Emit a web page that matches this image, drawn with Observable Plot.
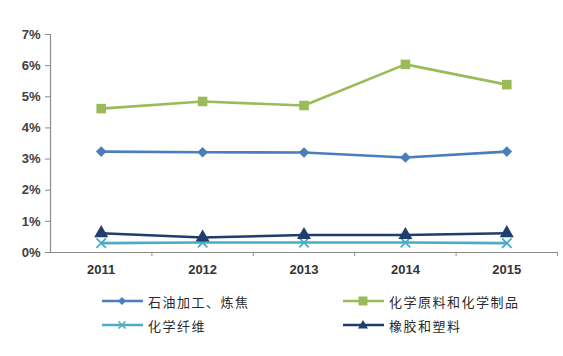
<!DOCTYPE html>
<html><head><meta charset="utf-8">
<script src="https://cdn.jsdelivr.net/npm/d3@7"></script>
<script src="https://cdn.jsdelivr.net/npm/@observablehq/plot@0.6"></script>
<style>
body{margin:0;background:#fff;font-family:"Noto Sans CJK SC","Noto Sans",sans-serif;}
#wrap{position:relative;width:563px;height:356px;}
.leg{position:absolute;display:flex;align-items:center;font-size:13px;letter-spacing:1.5px;color:#2a2a2a;}
.leg svg{margin-right:5px;}
</style></head><body>
<div id="wrap"></div>
<script>
const years = [2011, 2012, 2013, 2014, 2015];
const petroleum = [0.0324, 0.0322, 0.0321, 0.0305, 0.0324];
const chemicals = [0.0462, 0.0485, 0.0472, 0.0604, 0.0539];
const fibers = [0.0030, 0.0032, 0.0032, 0.0032, 0.0030];
const rubber = [0.0062, 0.0048, 0.0056, 0.0056, 0.0062];
const names = ["石油加工、炼焦", "化学原料和化学制品", "化学纤维", "橡胶和塑料"];
const yTicks = [0, 0.01, 0.02, 0.03, 0.04, 0.05, 0.06, 0.07];

const series = [
  {name: names[0], values: petroleum, color: "#4a7ebb", symbol: "diamond2", r: 4.8, fill: true},
  {name: names[1], values: chemicals, color: "#9bbb59", symbol: "square", r: 5.4, fill: true},
  {name: names[2], values: fibers, color: "#4bacc6", symbol: "times", r: 4.4, fill: false},
  {name: names[3], values: rubber, color: "#1f3d6d", symbol: "triangle", r: 5.2, fill: true}
];
const drawOrder = [2, 3, 0, 1];

const marks = [
  Plot.ruleY([0], {stroke: "#8c8c8c", strokeWidth: 1.2}),
  Plot.ruleX([2010.5], {y1: 0, y2: 0.07, stroke: "#8c8c8c", strokeWidth: 1.2}),
  Plot.axisY({ticks: yTicks, tickFormat: d => Math.round(d * 100) + "%", tickSize: 5, tickPadding: 5, label: null, fontSize: 13, fontWeight: "bold", color: "#404040", stroke: "#8c8c8c"}),
  Plot.axisX({ticks: years, tickSize: 0, tickPadding: 12, tickFormat: d => String(d), label: null, fontSize: 13, fontWeight: "bold", color: "#333"}),
  Plot.axisX({ticks: [2011.5, 2012.5, 2013.5, 2014.5, 2015.5], tickSize: 4, tickFormat: () => "", label: null, stroke: "#8c8c8c"})
];
for (const k of drawOrder) {
  const s = series[k];
  marks.push(Plot.line(years, {x: d => d, y: (d, i) => s.values[i], stroke: s.color, strokeWidth: 2.6}));
  marks.push(Plot.dot(years, {x: d => d, y: (d, i) => s.values[i], symbol: s.symbol, r: s.r,
    fill: s.fill ? s.color : "none", stroke: s.color, strokeWidth: s.fill ? 0 : 1.8}));
}

const chart = Plot.plot({
  width: 563, height: 282,
  marginTop: 34, marginBottom: 30, marginLeft: 50, marginRight: 6,
  x: {domain: [2010.5, 2015.5]},
  y: {domain: [0, 0.07]},
  style: {fontFamily: "'Liberation Sans', Arial, sans-serif", fontSize: "13px", fontWeight: "bold"},
  marks
});
const wrap = document.getElementById("wrap");
wrap.appendChild(chart);

const legPos = [[102, 301], [343, 301], [102, 325], [343, 325]];
series.forEach((s, i) => {
  const div = document.createElement("div");
  div.className = "leg";
  div.style.left = legPos[i][0] + "px";
  div.style.top = (legPos[i][1] - 10) + "px";
  div.style.height = "20px";
  let marker = "";
  const cx = 20, cy = 10;
  if (s.symbol === "diamond2") marker = `<path d="M${cx},${cy-4} L${cx+4},${cy} L${cx},${cy+4} L${cx-4},${cy} Z" fill="${s.color}"/>`;
  else if (s.symbol === "square") marker = `<rect x="${cx-4.5}" y="${cy-4.5}" width="9" height="9" fill="${s.color}"/>`;
  else if (s.symbol === "times") marker = `<path d="M${cx-3.5},${cy-3.5} L${cx+3.5},${cy+3.5} M${cx+3.5},${cy-3.5} L${cx-3.5},${cy+3.5}" stroke="${s.color}" stroke-width="1.6"/>`;
  else marker = `<path d="M${cx},${cy-5} L${cx+5},${cy+3.5} L${cx-5},${cy+3.5} Z" fill="${s.color}"/>`;
  div.innerHTML = `<svg width="41" height="20"><line x1="0" x2="41" y1="10" y2="10" stroke="${s.color}" stroke-width="2.6"/>${marker}</svg><span>${s.name}</span>`;
  wrap.appendChild(div);
});
</script>
</body></html>
